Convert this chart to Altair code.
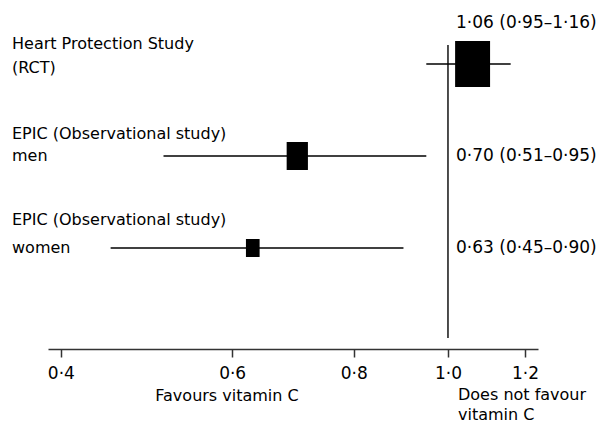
import altair as alt
import pandas as pd

# ---- data ----
label_line1 = ["Heart Protection Study", "EPIC (Observational study)", "EPIC (Observational study)"]
label_line2 = ["(RCT)", "men", "women"]
hazard_ratio = [1.06, 0.70, 0.63]
ci_low = [0.95, 0.51, 0.45]
ci_high = [1.16, 0.95, 0.90]
weight = [100, 37, 15.3]          # relative study weight (box area)
row = [1, 2, 3]
x_ticks = [0.4, 0.6, 0.8, 1.0, 1.2]
favours_left = "Favours vitamin C"
favours_right = ["Does not favour", "vitamin C"]


def dotfmt(v):
    return f"{v:.2f}".replace(".", "·")


ci_text = [f"{dotfmt(h)} ({dotfmt(l)}–{dotfmt(u)})" for h, l, u in zip(hazard_ratio, ci_low, ci_high)]

df = pd.DataFrame({
    "row": row, "line1": label_line1, "line2": label_line2,
    "hr": hazard_ratio, "lo": ci_low, "hi": ci_high,
    "weight": weight, "ci_text": ci_text,
})

FONT = "DejaVu Sans"
FS = 16
FS_NUM = 17
xs = alt.Scale(type="log", domain=[0.388, 1.2375], nice=False)
ys = alt.Scale(domain=[0.413, 4.098], reverse=True, nice=False, zero=False)

x_axis = alt.Axis(
    values=x_ticks, grid=False, title=None,
    labelExpr="replace(format(datum.value, '.1f'), '.', '·')",
    domainColor="#333", domainWidth=1.7, tickColor="#333", tickWidth=1.5, tickSize=8,
    labelFont=FONT, labelFontSize=FS_NUM, labelColor="black", labelPadding=8, labelFlush=False,
)

base = alt.Chart(df)

ci = base.mark_rule(color="#000", strokeWidth=1.4).encode(
    x=alt.X("lo:Q", scale=xs, axis=x_axis),
    x2="hi:Q",
    y=alt.Y("row:Q", scale=ys, axis=None),
)

boxes = base.mark_point(
    shape="M-0.76,-1H0.76V1H-0.76Z", filled=True, color="black", opacity=1, strokeWidth=0
).encode(
    x=alt.X("hr:Q", scale=xs),
    y=alt.Y("row:Q", scale=ys),
    size=alt.Size("weight:Q", scale=alt.Scale(domain=[0, 100], range=[0, 2116]), legend=None),
)

ref = alt.Chart(pd.DataFrame({"ref": [1.0]})).mark_rule(color="#222", strokeWidth=1.6).encode(
    x=alt.X("ref:Q", scale=xs), y=alt.value(35), y2=alt.value(328)
)

txt = dict(font=FONT, fontSize=FS, color="black", baseline="middle")
num = dict(font=FONT, fontSize=FS_NUM, color="black", baseline="middle")

# vertical offsets (px) of the two label lines relative to each row
label_dy = {1: (-20, 4), 2: (-22, 0), 3: (-28, 0)}
label_layers = []
for r, (d1, d2) in label_dy.items():
    sub = base.transform_filter(f"datum.row == {r}")
    label_layers.append(sub.mark_text(align="left", dy=d1, **txt).encode(
        x=alt.value(-36), y=alt.Y("row:Q", scale=ys), text="line1:N"))
    label_layers.append(sub.mark_text(align="left", dy=d2, **txt).encode(
        x=alt.value(-36), y=alt.Y("row:Q", scale=ys), text="line2:N"))

right_top = base.transform_filter("datum.row == 1").mark_text(align="left", dy=-41, **num).encode(
    x=alt.value(408), y=alt.Y("row:Q", scale=ys), text="ci_text:N")
right_rows = base.transform_filter("datum.row > 1").mark_text(align="left", **num).encode(
    x=alt.value(408), y=alt.Y("row:Q", scale=ys), text="ci_text:N")

fav_l = alt.Chart(pd.DataFrame({"t": [favours_left]})).mark_text(align="center", **txt).encode(
    x=alt.value(179), y=alt.value(386), text="t:N")
fav_r1 = alt.Chart(pd.DataFrame({"t": [favours_right[0]]})).mark_text(align="left", **txt).encode(
    x=alt.value(410), y=alt.value(385), text="t:N")
fav_r2 = alt.Chart(pd.DataFrame({"t": [favours_right[1]]})).mark_text(align="left", **txt).encode(
    x=alt.value(410), y=alt.value(405), text="t:N")

chart = alt.layer(
    ref, ci, boxes, *label_layers, right_top, right_rows, fav_l, fav_r1, fav_r2
).properties(
    width=490, height=339,
    autosize=alt.AutoSizeParams(type="none"),
    padding={"left": 40, "top": 2, "right": 59, "bottom": 77},
).configure_view(stroke=None)

chart.save("out.html", embed_options={"renderer": "svg", "actions": False})
